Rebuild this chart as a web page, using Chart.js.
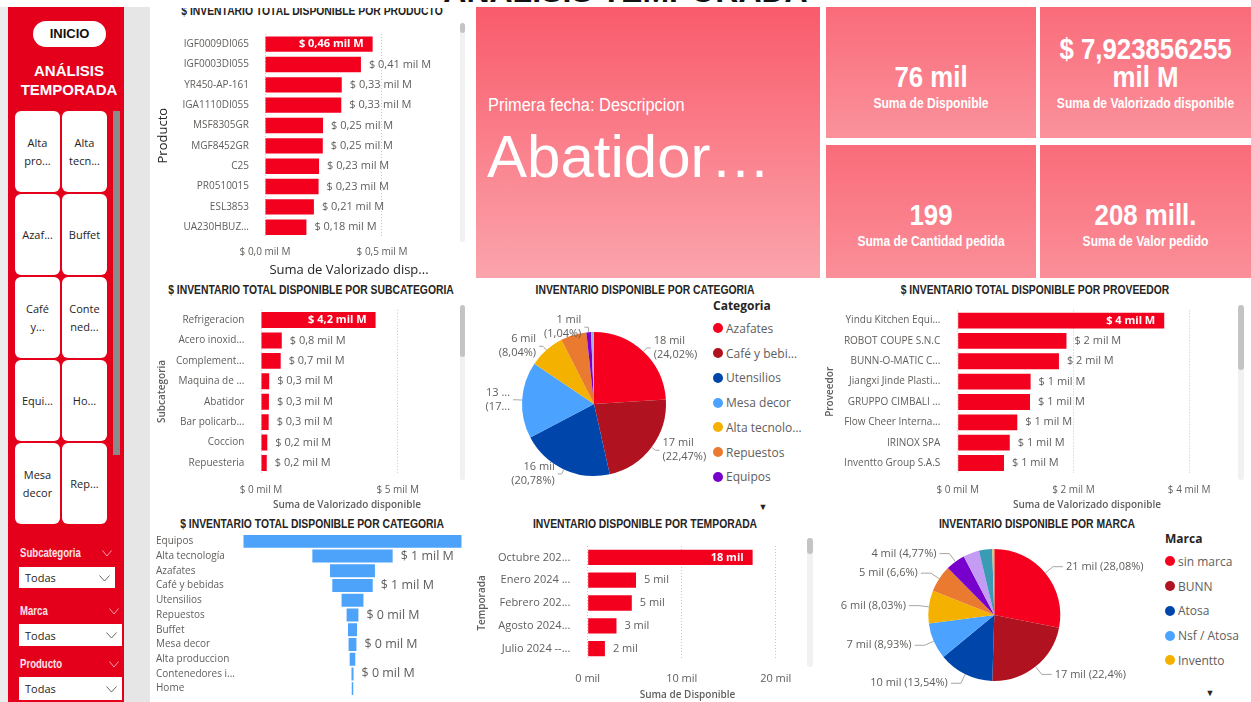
<!DOCTYPE html>
<html lang="es"><head><meta charset="utf-8"><title>Análisis Temporada</title>
<script src="https://cdn.jsdelivr.net/npm/chart.js@4.4.1/dist/chart.umd.min.js"></script>
<style>
*{box-sizing:border-box}
html,body{margin:0;padding:0;background:#fff}
body{width:1251px;height:702px;position:relative;overflow:hidden;font-family:'Open Sans',sans-serif}
.a{position:absolute}
canvas{position:absolute}
.ttl{position:absolute;font-family:'Liberation Sans',Arial,sans-serif;font-weight:700;font-size:12px;line-height:12px;color:#252423;white-space:nowrap;transform:translate(-50%,-50%) scaleX(0.863)}
.tile{position:absolute;width:45px;height:81px;background:#fff;border-radius:6px;display:flex;flex-direction:column;align-items:center;justify-content:center;font-size:11px;line-height:18px;color:#252423;text-align:center}
.flabel{position:absolute;left:20px;font-family:'Liberation Sans',Arial,sans-serif;font-weight:700;font-size:12px;color:#FFE3E7;line-height:13px;transform-origin:left center;transform:translateY(-50%) scaleX(0.8);white-space:nowrap}
.dd{position:absolute;left:19px;background:#fff;font-size:11px;color:#252423;padding-left:6px;display:flex;align-items:center}
.card{position:absolute;color:#fff;overflow:hidden}
.kv{position:absolute;left:0;right:0;text-align:center;font-family:'Liberation Sans',Arial,sans-serif;font-weight:700;font-size:30px;line-height:30px;transform:translateY(-50%) scaleX(0.86);white-space:nowrap}
.kl{position:absolute;left:0;right:0;text-align:center;font-family:'Liberation Sans',Arial,sans-serif;font-weight:700;font-size:14px;line-height:14px;transform:translateY(-50%) scaleX(0.86);white-space:nowrap}
.sb{position:absolute;background:#F1F1F1;border-radius:4px}
.sb i{position:absolute;left:0;right:0;top:0;background:#C4C4C4;border-radius:4px}
.lg{position:absolute;overflow:hidden}
.lg .t{font-weight:700;font-size:12px;color:#252423;height:20px;line-height:20px}
.lg .it{height:24.75px;display:flex;align-items:center;font-size:12px;color:#605E5C;white-space:nowrap}
.lg .it b{width:10px;height:10px;border-radius:50%;margin-right:3px;flex:none}
.lg .it span{overflow:hidden;text-overflow:ellipsis;max-width:78px}
.arrow{position:absolute;font-size:9px;color:#252423;transform:translate(-50%,-50%)}
</style></head>
<body>
<script>
// ================= DATA =================
const productos = ['IGF0009DI065','IGF0003DI055','YR450-AP-161','IGA1110DI055','MSF8305GR','MGF8452GR','C25','PR0510015','ESL3853','UA230HBUZ...'];
const valorizadoProducto = [0.46,0.41,0.328,0.326,0.248,0.247,0.231,0.229,0.209,0.177]; // mil M
const ticksProducto = [0,0.5];
const tickLabelsProducto = ['$ 0,0 mil M','$ 0,5 mil M'];

const subcategorias = ['Refrigeracion','Acero inoxid...','Complement...','Maquina de ...','Abatidor','Bar policarb...','Coccion','Repuesteria'];
const valorizadoSubcategoria = [4.19,0.76,0.72,0.30,0.29,0.28,0.23,0.21];
const ticksSubcategoria = [0,5];
const tickLabelsSubcategoria = ['$ 0 mil M','$ 5 mil M'];

const proveedores = ['Yindu Kitchen Equi...','ROBOT COUPE S.N.C','BUNN-O-MATIC C...','Jiangxi Jinde Plasti...','GRUPPO CIMBALI ...','Flow Cheer Interna...','IRINOX SPA','Inventto Group S.A.S'];
const valorizadoProveedor = [3.57,1.88,1.75,1.26,1.25,1.03,0.90,0.80];
const ticksProveedor = [0,2,4];
const tickLabelsProveedor = ['$ 0 mil M','$ 2 mil M','$ 4 mil M'];

const temporadas = ['Octubre 202...','Enero 2024 ...','Febrero 202...','Agosto 2024...','Julio 2024 --...'];
const disponibleTemporada = [17540,5140,4690,3060,1830];
const ticksTemporada = [0,10000,20000];
const tickLabelsTemporada = ['0 mil','10 mil','20 mil'];

const categoriasEmbudo = ['Equipos','Alta tecnología','Azafates','Café y bebidas','Utensilios','Repuestos','Buffet','Mesa decor','Alta produccion','Contenedores i...','Home'];
const valorizadoCategoria = [3.89,1.43,0.80,0.72,0.39,0.21,0.16,0.14,0.10,0.036,0.027];

const categoriasPie = ['Azafates','Café y bebidas','Utensilios','Mesa decor','Alta tecnología','Repuestos','Equipos','Buffet','Alta produccion','Contenedores i...','Home'];
const disponibleCategoria = [18135,16965,15689,12986,6070,4379,785,230,151,76,34];
const coloresCategoria = ['#F5001E','#B01220','#0046AA','#4BA3FF','#F5B100','#E97A30','#7800CC','#C59CF4','#3A9BB5','#A0A0A0','#D5C27A'];

const marcas = ['sin marca','BUNN','Atosa','Nsf / Atosa','Inventto','Robot Coupe','Cimbali','Irinox','Yindu','Otros'];
const disponibleMarca = [21200,16912,10223,6742,6063,4983,3601,2945,2454,377];
const coloresMarca = ['#F5001E','#B01220','#0046AA','#4BA3FF','#F5B100','#E97A30','#7800CC','#C59CF4','#3A9BB5','#D5C27A'];

const kpiValores = ['76 mil','$ 7,923856255|mil M','199','208 mill.'];
const kpiEtiquetas = ['Suma de Disponible','Suma de Valorizado disponible','Suma de Cantidad pedida','Suma de Valor pedido'];
const tarjetaTitulo = 'Primera fecha: Descripcion';
const tarjetaValor = 'Abatidor…';

const mosaicos = [['Alta','pro...'],['Alta','tecn...'],['Azaf...'],['Buffet'],['Café','y...'],['Conte','ned...'],['Equi...'],['Ho...'],['Mesa','decor'],['Rep...']];
const filtros = ['Subcategoria','Marca','Producto'];
// ========================================

const RED = '#F2001E';
Chart.defaults.font.family = "'Open Sans', sans-serif";
Chart.defaults.color = '#605E5C';

function el(html){ const d=document.createElement('div'); d.innerHTML=html; while(d.firstChild) document.body.appendChild(d.firstChild); }
function chev(x,y,w,color){ return `<svg class="a" style="left:${x-w/2}px;top:${y-3}px" width="${w}" height="7"><polyline points="0.5,0.5 ${w/2},${6} ${w-0.5},0.5" fill="none" stroke="${color}" stroke-width="1"/></svg>`; }

// ---------- static layout ----------
el(`<div class="a" style="left:0;top:0;width:1251px;height:3px;overflow:hidden"><div class="a" style="left:0;width:1251px;top:-24.5px;text-align:center;font:700 32px/30px 'Liberation Sans',Arial,sans-serif;color:#111">ANÁLISIS TEMPORADA</div></div>`);
el(`<div class="a" style="left:0;top:7px;width:8px;height:695px;background:#ECECEC"></div>`);
el(`<div class="a" style="left:8px;top:7px;width:116px;height:695px;background:#E4001B"></div>`);
el(`<div class="a" style="left:124px;top:7px;width:26px;height:695px;background:#E6E6E6"></div>`);
el(`<div class="a" style="left:33px;top:21px;width:73px;height:26px;border-radius:13px;background:#fff;text-align:center;font:700 13px/26px 'Liberation Sans',Arial,sans-serif;color:#111">INICIO</div>`);
el(`<div class="a" style="left:8px;top:60.5px;width:122px;text-align:center;font:700 15px/19px 'Liberation Sans',Arial,sans-serif;color:#fff">ANÁLISIS<br>TEMPORADA</div>`);
mosaicos.forEach((t,i)=>{
  const c=i%2, r=Math.floor(i/2);
  el(`<div class="tile" style="left:${c?62:15}px;top:${111+r*83.1}px">${t.map(s=>`<div>${s}</div>`).join('')}</div>`);
});
el(`<div class="a" style="left:113px;top:111px;width:7px;height:344px;background:#8A8A8A"></div>`);
const fY=[553,611,664], ddT=[567,624,677], ddW=[96,103,103], ddH=[21,22,23], chX=[107,114,114];
filtros.forEach((f,i)=>{
  el(`<div class="flabel" style="top:${fY[i]}px">${f}</div>`);
  el(chev(chX[i],fY[i],10,'#F7A0AC'));
  el(`<div class="dd" style="top:${ddT[i]}px;width:${ddW[i]}px;height:${ddH[i]}px">Todas</div>`);
  el(chev(19+ddW[i]-11,ddT[i]+ddH[i]/2,11,'#666'));
});

// KPI cards
el(`<div class="card" style="left:476px;top:7px;width:344px;height:271px;background:linear-gradient(#F95B6B,#FBA4AC)">
  <div class="a" style="left:12px;top:98px;transform-origin:left center;transform:translateY(-50%) scaleX(0.91);font:400 18px/18px 'Liberation Sans',Arial,sans-serif;white-space:nowrap">${tarjetaTitulo}</div>
  <div class="a" style="left:11px;top:120px;font:400 60px/60px 'Liberation Sans',Arial,sans-serif;white-space:nowrap">${tarjetaValor}</div></div>`);
const cardPos=[[826,7,210,131],[1040,7,211,131],[826,145,210,133],[1040,145,211,133]];
cardPos.forEach((p,i)=>{
  const parts=kpiValores[i].split('|');
  const vals = parts.length>1 ? `<div class="kv" style="top:42px">${parts[0]}</div><div class="kv" style="top:70px">${parts[1]}</div>` : `<div class="kv" style="top:70px">${parts[0]}</div>`;
  const bg = i<2 ? 'linear-gradient(#FA6B7A,#FA929C)' : 'linear-gradient(#FA6C7A,#FA8F99)';
  el(`<div class="card" style="left:${p[0]}px;top:${p[1]}px;width:${p[2]}px;height:${p[3]}px;background:${bg}">${vals}<div class="kl" style="top:96px">${kpiEtiquetas[i]}</div></div>`);
});

// titles
el(`<div class="a" style="left:150px;top:7.5px;width:310px;height:12px;overflow:hidden"><div class="ttl" style="left:161.7px;top:3px">$ INVENTARIO TOTAL DISPONIBLE POR PRODUCTO</div></div>`);
[['$ INVENTARIO TOTAL DISPONIBLE POR SUBCATEGORIA',311,290],['INVENTARIO DISPONIBLE POR CATEGORIA',645,290],['$ INVENTARIO TOTAL DISPONIBLE POR PROVEEDOR',1035,290],
 ['$ INVENTARIO TOTAL DISPONIBLE POR CATEGORIA',312,524],['INVENTARIO DISPONIBLE POR TEMPORADA',645,524],['INVENTARIO DISPONIBLE POR MARCA',1037,524]]
 .forEach(t=>el(`<div class="ttl" style="left:${t[1]}px;top:${t[2]}px">${t[0]}</div>`));

// scrollbars
[[460,23,5,219,10],[460,305,5,175,52],[1238,305,6,175,65],[807,538,6,129,16]].forEach(s=>{
  el(`<div class="sb" style="left:${s[0]}px;top:${s[1]}px;width:${s[2]}px;height:${s[3]}px"><i style="height:${s[4]}px"></i></div>`);
});

// legends
function legend(x,y,title,labels,colors,h){
  el(`<div class="lg" style="left:${x}px;top:${y}px;width:95px;height:${h}px"><div class="t">${title}</div>${labels.map((l,i)=>`<div class="it"><b style="background:${colors[i]}"></b><span>${l}</span></div>`).join('')}</div>`);
}
legend(713,296,'Categoria',categoriasPie,coloresCategoria,20+7*24.75);
legend(1165,529,'Marca',marcas,coloresMarca,20+5*24.75);
el(`<div class="arrow" style="left:763px;top:506px">▼</div>`);
el(`<div class="arrow" style="left:1210px;top:692px">▼</div>`);

// ---------- charts ----------
const labelCfg = {};
const barLabels = {
  id:'barLabels',
  afterDatasetsDraw(chart){
    const o = labelCfg[chart.canvas.id]; if(!o) return;
    const ctx=chart.ctx, meta=chart.getDatasetMeta(0);
    ctx.save(); ctx.textBaseline='middle';
    let lastY=-1e9;
    meta.data.forEach((bar,i)=>{
      const text=o.format(o.values[i]);
      ctx.font=o.font;
      const w=ctx.measureText(text).width;
      if(o.funnel){
        const x=bar.x+o.gap;
        if(x+w>chart.width-2) return;
        if(Math.abs(bar.y-lastY)<o.minSpacing) return;
        lastY=bar.y;
        ctx.fillStyle=o.color; ctx.textAlign='left'; ctx.fillText(text,x,bar.y);
        return;
      }
      if(bar.x+o.gap+w>chart.chartArea.right){
        ctx.font=o.insideFont; ctx.fillStyle='#fff'; ctx.textAlign='right';
        ctx.fillText(text,bar.x-o.inGap,bar.y);
      } else {
        ctx.fillStyle=o.color; ctx.textAlign='left'; ctx.fillText(text,bar.x+o.gap,bar.y);
      }
    });
    ctx.restore();
  }
};

function mkCanvas(id,box){
  const c=document.createElement('canvas'); c.id=id; c.width=box.w; c.height=box.h;
  c.style.left=box.x+'px'; c.style.top=box.y+'px'; c.style.width=box.w+'px'; c.style.height=box.h+'px';
  document.body.appendChild(c); return c;
}

function hbar(id,box,area,cfg){
  const c=mkCanvas(id,box);
  const padT=area.top-box.y, padR=box.x+box.w-area.right, yW=area.left-box.x, xH=box.y+box.h-area.bottom;
  labelCfg[id]={values:cfg.values,format:cfg.format,font:cfg.labelFont,insideFont:cfg.insideFont,color:'#605E5C',gap:8,inGap:9};
  return new Chart(c,{
    type:'bar',
    data:{labels:cfg.labels,datasets:[{data:cfg.values,backgroundColor:RED,barPercentage:cfg.bp,categoryPercentage:1}]},
    options:{
      indexAxis:'y',responsive:false,animation:false,events:[],devicePixelRatio:1,
      layout:{padding:{top:padT,right:padR,left:0,bottom:0}},
      plugins:{legend:{display:false},tooltip:{enabled:false}},
      scales:{
        x:{min:0,max:cfg.max,afterFit:s=>{s.height=xH;},
           afterBuildTicks:s=>{s.ticks=cfg.ticks.map(v=>({value:v}));},
           ticks:{callback:(v,i)=>cfg.tickLabels[i],padding:cfg.tickPad,font:{size:cfg.tickSize},color:'#605E5C',maxRotation:0,autoSkip:false},
           grid:{color:'#C8C6C4',drawTicks:false,lineWidth:1},
           border:{display:false,dash:[1,2]},
           title:{display:true,text:cfg.xTitle,font:cfg.xTitleFont,color:cfg.titleColor,padding:{top:0,bottom:cfg.xTitlePad}}},
        y:{afterFit:s=>{s.width=yW;},
           ticks:{padding:cfg.yTickPad,font:{size:cfg.yTickSize},color:'#605E5C',autoSkip:false},
           grid:{display:false},border:{display:false},
           title:{display:true,text:cfg.yTitle,font:cfg.yTitleFont,color:cfg.titleColor,padding:{top:cfg.yTitlePad,bottom:0}}}
      }
    },
    plugins:[barLabels]
  });
}

const fmtMilM2 = v=>'$ '+v.toFixed(2).replace('.',',')+' mil M';
const fmtMilM1 = v=>'$ '+v.toFixed(1).replace('.',',')+' mil M';
const fmtMilM0 = v=>'$ '+Math.round(v)+' mil M';
const fmtMil = v=>Math.round(v/1000)+' mil';

hbar('cProducto',{x:150,y:20,w:310,h:260},{left:265,right:433,top:29.6,bottom:237.4},{
  labels:productos,values:valorizadoProducto,max:0.718,ticks:ticksProducto,tickLabels:tickLabelsProducto,
  bp:0.755,tickPad:8.6,tickSize:10,yTickPad:8,yTickSize:10,
  xTitle:'Suma de Valorizado disp...',xTitleFont:{size:13},xTitlePad:2.2,
  yTitle:'Producto',yTitleFont:{size:13},yTitlePad:5.2,titleColor:'#252423',
  format:fmtMilM2,labelFont:"11px 'Open Sans'",insideFont:"bold 11px 'Open Sans'"});

hbar('cSubcat',{x:150,y:295,w:310,h:216},{left:261,right:433,top:309.8,bottom:473.2},{
  labels:subcategorias,values:valorizadoSubcategoria,max:6.29,ticks:ticksSubcategoria,tickLabels:tickLabelsSubcategoria,
  bp:0.78,tickPad:10.8,tickSize:10,yTickPad:8.7,yTickSize:10,
  xTitle:'Suma de Valorizado disponible',xTitleFont:{size:10,weight:600},xTitlePad:0,
  yTitle:'Subcategoria',yTitleFont:{size:10,weight:600},yTitlePad:5.7,titleColor:'#605E5C',
  format:fmtMilM1,labelFont:"11px 'Open Sans'",insideFont:"bold 11px 'Open Sans'"});

hbar('cProveedor',{x:820,y:295,w:415,h:216},{left:957.7,right:1216.3,top:309.8,bottom:473.2},{
  labels:proveedores,values:valorizadoProveedor,max:4.47,ticks:ticksProveedor,tickLabels:tickLabelsProveedor,
  bp:0.78,tickPad:10.8,tickSize:10,yTickPad:9.4,yTickSize:10,
  xTitle:'Suma de Valorizado disponible',xTitleFont:{size:10,weight:600},xTitlePad:0,
  yTitle:'Proveedor',yTitleFont:{size:10,weight:600},yTitlePad:4,titleColor:'#605E5C',
  format:fmtMilM0,labelFont:"11px 'Open Sans'",insideFont:"bold 11px 'Open Sans'"});

hbar('cTemporada',{x:470,y:530,w:335,h:172},{left:587.7,right:788.3,top:543.3,bottom:660},{
  labels:temporadas,values:disponibleTemporada,max:21230,ticks:ticksTemporada,tickLabels:tickLabelsTemporada,
  bp:0.67,tickPad:12.7,tickSize:11,yTickPad:9.4,yTickSize:11,
  xTitle:'Suma de Disponible',xTitleFont:{size:10,weight:600},xTitlePad:1,
  yTitle:'Temporada',yTitleFont:{size:10,weight:600},yTitlePad:5.7,titleColor:'#605E5C',
  format:fmtMil,labelFont:"11px 'Open Sans'",insideFont:"bold 11px 'Open Sans'"});

// funnel
(function(){
  const box={x:150,y:528,w:315,h:174}, area={left:243.3,right:461.7,top:530.25,bottom:700.75};
  const c=mkCanvas('cEmbudo',box);
  const padL=6, yW=area.left-box.x-padL;
  const vmax=Math.max(...valorizadoCategoria);
  labelCfg['cEmbudo']={values:valorizadoCategoria,format:fmtMilM0,font:"12.5px 'Open Sans'",color:'#605E5C',gap:8,funnel:true,minSpacing:16.5};
  new Chart(c,{
    type:'bar',
    data:{labels:categoriasEmbudo,datasets:[{data:valorizadoCategoria.map(v=>[-v/2,v/2]),backgroundColor:'#4DA3FA',barPercentage:0.88,categoryPercentage:1}]},
    options:{
      indexAxis:'y',responsive:false,animation:false,events:[],devicePixelRatio:1,
      layout:{padding:{left:padL,top:area.top-box.y,right:box.x+box.w-area.right,bottom:box.y+box.h-area.bottom}},
      plugins:{legend:{display:false},tooltip:{enabled:false}},
      scales:{
        x:{display:false,min:-vmax/2,max:vmax/2},
        y:{afterFit:s=>{s.width=yW;},ticks:{crossAlign:'far',padding:0,font:{size:10},color:'#605E5C',autoSkip:false},grid:{display:false},border:{display:false}}
      }
    },
    plugins:[barLabels]
  });
})();

// pies
function fmtPct(p){ return (Math.round(p*100)/100).toString().replace('.',',')+'%'; }
function fitText(ctx,s,w){ if(ctx.measureText(s).width<=w) return s; let t=s; while(t.length>1 && ctx.measureText(t+'...').width>w) t=t.slice(0,-1); return t+'...'; }
const pieLabels={
  id:'pieLabels',
  afterDatasetsDraw(chart){
    const o=labelCfg[chart.canvas.id]; if(!o) return;
    const ctx=chart.ctx, meta=chart.getDatasetMeta(0), data=chart.data.datasets[0].data;
    const total=data.reduce((a,b)=>a+b,0);
    const order=data.map((v,i)=>i).sort((a,b)=>data[b]-data[a]);
    ctx.save(); ctx.font=o.font; ctx.textBaseline='middle';
    const placed=[];
    order.forEach(i=>{
      const arc=meta.data[i];
      const a=(arc.startAngle+arc.endAngle)/2, r=arc.outerRadius;
      const cs=Math.cos(a), sn=Math.sin(a), side=cs>=0?1:-1;
      const p0={x:arc.x+cs*r,y:arc.y+sn*r};
      const p1={x:arc.x+cs*(r+o.gap),y:arc.y+sn*(r+o.gap)};
      const p2={x:p1.x+side*o.hLen,y:p1.y};
      const tx=p2.x+side*3;
      const val=fmtMil(data[i]), pct=fmtPct(data[i]/total*100);
      let lines=o.twoLine?[val,'('+pct+')']:[val+' ('+pct+')'];
      const avail=side>0?chart.width-tx-o.marginR:tx-o.marginL;
      lines=lines.map(s=>fitText(ctx,s,avail));
      const w=Math.max(...lines.map(s=>ctx.measureText(s).width));
      const h=lines.length*o.lh;
      const b={x1:side>0?tx:tx-w,x2:side>0?tx+w:tx,y1:p1.y-h/2,y2:p1.y+h/2};
      if(placed.some(q=>q.x1<b.x2&&b.x1<q.x2&&q.y1<b.y2+1&&b.y1<q.y2+1)) return;
      placed.push(b);
      ctx.strokeStyle=o.lineColor; ctx.lineWidth=1;
      ctx.beginPath(); ctx.moveTo(p0.x,p0.y); ctx.lineTo(p1.x,p1.y); ctx.lineTo(p2.x,p2.y); ctx.stroke();
      ctx.fillStyle=o.color; ctx.textAlign=side>0?'left':'right';
      lines.forEach((s,k)=>ctx.fillText(s,tx,p1.y-h/2+o.lh/2+k*o.lh));
    });
    ctx.restore();
  }
};
function pie(id,box,area,labels,values,colors,lopts){
  const c=mkCanvas(id,box);
  labelCfg[id]=Object.assign({font:"11px 'Open Sans'",lh:14,color:'#605E5C',lineColor:'#A8A6A4',marginL:8,marginR:2},lopts);
  new Chart(c,{
    type:'pie',
    data:{labels,datasets:[{data:values,backgroundColor:colors,borderWidth:0}]},
    options:{responsive:false,animation:false,events:[],devicePixelRatio:1,
      layout:{padding:{left:area.left-box.x,right:box.x+box.w-area.right,top:area.top-box.y,bottom:box.y+box.h-area.bottom}},
      plugins:{legend:{display:false},tooltip:{enabled:false}}},
    plugins:[pieLabels]
  });
}
pie('cCategoria',{x:470,y:298,w:245,h:212},{left:522,right:666,top:332,bottom:476},categoriasPie,disponibleCategoria,coloresCategoria,{twoLine:true,gap:5,hLen:4,marginL:14});
pie('cMarca',{x:820,y:530,w:340,h:172},{left:928.3,right:1060.3,top:549,bottom:681},marcas,disponibleMarca,coloresMarca,{twoLine:false,gap:10,hLen:10});
</script>
</body></html>
